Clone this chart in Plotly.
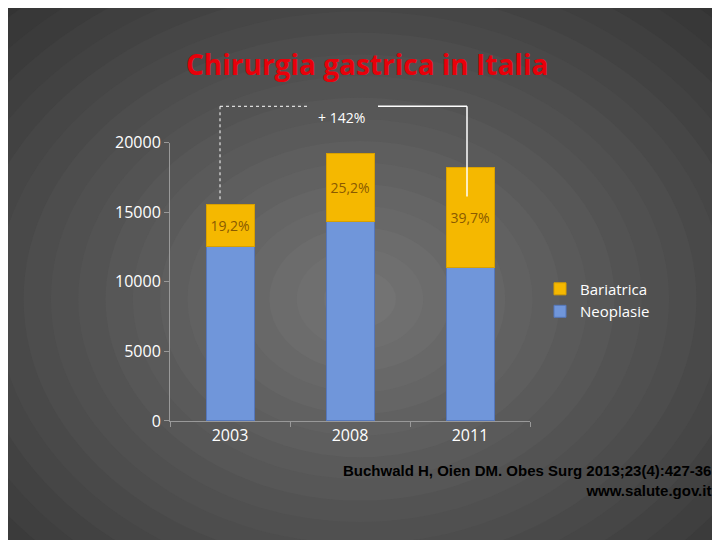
import plotly.graph_objects as go

years = ["2003", "2008", "2011"]
neoplasie = [12550, 14350, 11000]
bariatrica = [3000, 4850, 7250]
pct_labels = ["19,2%", "25,2%", "39,7%"]

W, H, OFF = 720, 540, 8  # page renders figure offset by 8px


def px(x):
    return (x - OFF) / W


def py(y):
    return 1 - (y - OFF) / H


fig = go.Figure()
n = 30
shapes = []
for i in range(n):
    t = i / (n - 1)
    c = int(15 + t * 100)
    r = 1.1 * (1 - t) + 0.05
    cx, cy = px(360), py(300)
    shapes.append(dict(type="circle", xref="paper", yref="paper",
                       x0=cx - r, x1=cx + r, y0=cy - r * 1.1, y1=cy + r * 1.1,
                       fillcolor=f"rgb({c},{c},{c})", line=dict(width=0), layer="below"))

fig.add_bar(x=years, y=neoplasie, name="Neoplasie", width=0.4,
            marker=dict(color="#7096da", line=dict(color="#5577bb", width=1)))
fig.add_bar(x=years, y=bariatrica, name="Bariatrica", width=0.4,
            marker=dict(color="#f5b800", line=dict(color="#d9a000", width=1)),
            text=pct_labels, textposition="inside", insidetextanchor="middle", textangle=0,
            textfont=dict(color="#8a5a00", size=14, family="Open Sans"))

shapes += [
    dict(type="line", xref="paper", yref="paper", x0=px(220), x1=px(310), y0=py(99), y1=py(99),
         line=dict(color="white", width=1, dash="dot")),
    dict(type="line", xref="paper", yref="paper", x0=px(220), x1=px(220), y0=py(99), y1=py(196),
         line=dict(color="white", width=1, dash="dot")),
    dict(type="line", xref="paper", yref="paper", x0=px(378), x1=px(467), y0=py(99), y1=py(99),
         line=dict(color="white", width=1.5)),
    dict(type="line", xref="paper", yref="paper", x0=px(467), x1=px(467), y0=py(99), y1=py(193),
         line=dict(color="white", width=1.5)),
]

fig.update_layout(
    width=W, height=H, barmode="stack", shapes=shapes,
    paper_bgcolor="#222", plot_bgcolor="rgba(0,0,0,0)",
    margin=dict(l=0, r=0, t=0, b=0), showlegend=True,
    font=dict(family="Open Sans", color="white"),
    uniformtext=dict(minsize=14, mode="show"),
    xaxis=dict(domain=[px(170), px(530)], showline=True, linecolor="#999", ticks="outside",
               tickson="boundaries", tickcolor="#999", tickfont=dict(size=16, color="white")),
    yaxis=dict(domain=[py(427), py(137)], range=[0, 20000], dtick=5000, tickformat="d",
               showgrid=False, showline=True, linecolor="#999", ticks="outside", tickcolor="#999",
               tickfont=dict(size=16, color="white"), zeroline=False),
    legend=dict(x=px(540), y=py(301), yanchor="middle", font=dict(size=15, color="white"),
                bgcolor="rgba(0,0,0,0)", traceorder="reversed"),
    annotations=[
        dict(text="<b>Chirurgia gastrica in Italia</b>", xref="paper", yref="paper", x=px(367), y=py(33),
             showarrow=False, font=dict(size=28, color="#e8000a", family="Open Sans")),
        dict(text="+ 142%", xref="paper", yref="paper", x=px(341), y=py(99), showarrow=False,
             font=dict(size=14, color="white")),
        dict(text="<b>Buchwald H, Oien DM. Obes Surg 2013;23(4):427-36<br>www.salute.gov.it</b>",
             xref="paper", yref="paper", x=px(713), y=py(510), xanchor="right", align="right",
             showarrow=False, font=dict(size=15, color="black", family="Liberation Sans")),
    ],
)
fig.write_html("out.html")
